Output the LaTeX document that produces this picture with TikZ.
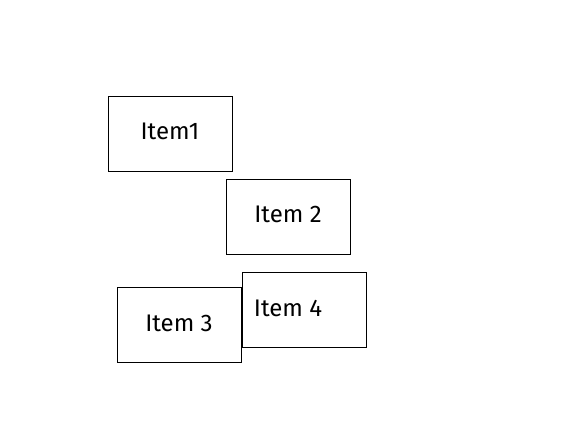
\documentclass[tikz,border=0pt]{standalone}
\usepackage{fontspec}
\setmainfont{Fira Sans}
\usepackage{tikz}
\usetikzlibrary{positioning}
\tikzstyle{item} = [rectangle, minimum width=124pt, minimum height=75pt, text centered, text depth=4pt, draw=black, line width=0.8pt, font=\fontsize{24}{28}\selectfont]

\begin{document}
\begin{tikzpicture}[x=1pt,y=-1pt]
\useasboundingbox (0,0) rectangle (577,433);

\node (item1) [item] at (170,133.5) {Item1};
\node (item2) [item] at (288,216.5) {Item 2};
\node (item3) [item] at (179,325) {Item 3};
\node (item4) [item] at (304,310) {Item 4\hspace*{32pt}};
\end{tikzpicture}
\end{document}
